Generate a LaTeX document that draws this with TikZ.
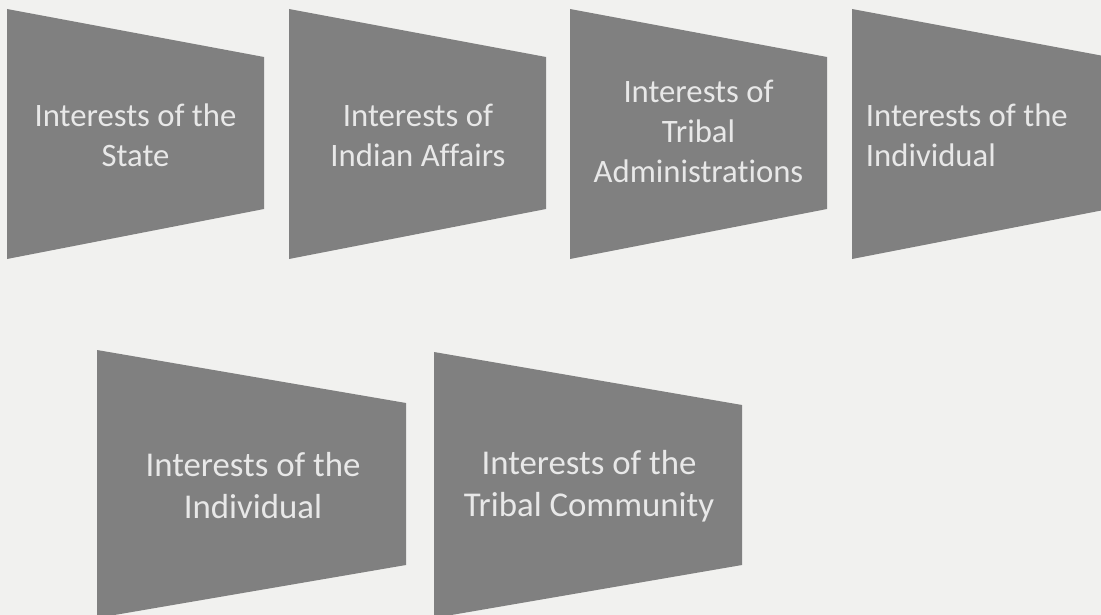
\documentclass[tikz,border=0pt]{standalone}
\usepackage{fontspec}
\setmainfont[RawFeature={-liga}]{Carlito}
\definecolor{paper}{RGB}{241,241,239}
\definecolor{slabgray}{RGB}{128,128,128}
\definecolor{slabtext}{RGB}{232,232,232}
\tikzset{
  slab/.style={fill=slabgray, draw=none},
  slablabel/.style={text=slabtext, inner sep=0.75pt, align=center, font=\fontsize{32.7}{40}\selectfont},
  biglabel/.style={slablabel, font=\fontsize{34.8}{42}\selectfont}
}
\begin{document}
\begin{tikzpicture}[x=1pt,y=1pt,yscale=-1,xscale=1]
\clip (0,0) rectangle (1101,615);
\fill [paper] (0,0) rectangle (1101,615);

%Shape: Trapezoid [state]
\draw [slab] (7,9) -- (264,57) -- (264,209) -- (7,259) -- cycle ;
%Shape: Trapezoid [indian affairs]
\draw [slab] (289,9) -- (546,57) -- (546,209) -- (289,259) -- cycle ;
%Shape: Trapezoid [tribal administrations]
\draw [slab] (570,9) -- (827,57) -- (827,209) -- (570,259) -- cycle ;
%Shape: Trapezoid [individual, top row]
\draw [slab] (852,9) -- (1109,57) -- (1109,209) -- (852,259) -- cycle ;
%Shape: Trapezoid [individual, bottom row]
\draw [slab] (97,350) -- (406,403) -- (406,565) -- (97,618) -- cycle ;
%Shape: Trapezoid [tribal community]
\draw [slab] (434,352) -- (742,405) -- (742,565) -- (434,618) -- cycle ;

% Text Node
\node [slablabel] (state) at (135.5,135) {Interests of the\\State};
% Text Node
\node [slablabel] (indian) at (418,135) {Interests of\\Indian Affairs};
% Text Node
\node [slablabel] (tribaladmin) at (698.5,131) {Interests of\\Tribal\\Administrations};
% Text Node
\node [slablabel, align=left, anchor=west] (individualtop) at (865,135) {Interests of the\\Individual};
% Text Node
\node [biglabel] (individualbot) at (253,486) {Interests of the\\Individual};
% Text Node
\node [biglabel] (community) at (589,486) {Interests of the\\Tribal Community};
\end{tikzpicture}
\end{document}
